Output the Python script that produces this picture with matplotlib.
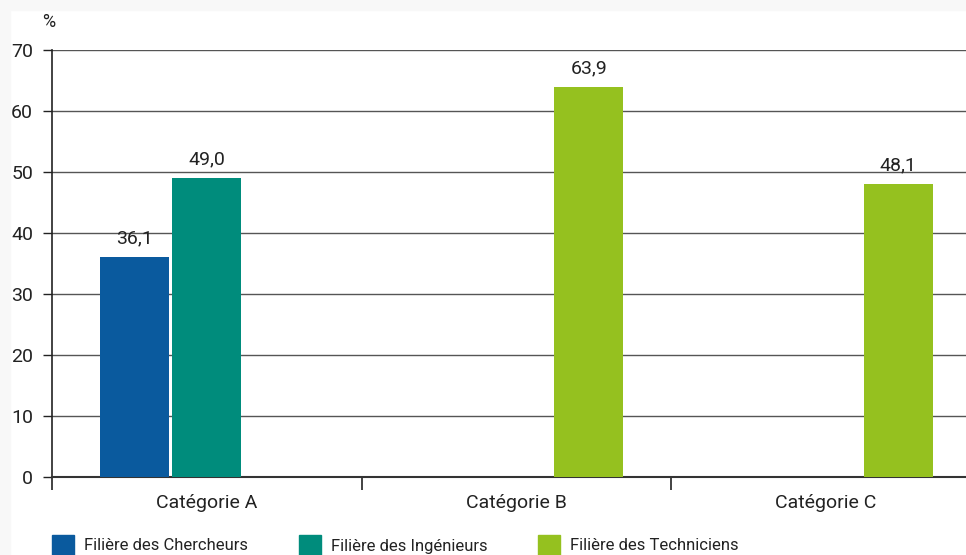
import matplotlib
matplotlib.use("Agg")
import matplotlib.pyplot as plt
import numpy as np
from matplotlib import font_manager
from matplotlib.patches import Rectangle

names = {f.name for f in font_manager.fontManager.ttflist}
FONT = "Liberation Sans Narrow" if "Liberation Sans Narrow" in names else "Roboto"
plt.rcParams['font.family'] = [FONT, 'DejaVu Sans']

categories = ["Catégorie A", "Catégorie B", "Catégorie C"]
series_names = ["Filière des Chercheurs", "Filière des Ingénieurs", "Filière des Techniciens"]
chercheurs = [36.1, np.nan, np.nan]
ingenieurs = [49.0, np.nan, np.nan]
techniciens = [np.nan, 63.9, 48.1]
colors = ["#0a5a9e", "#008c7c", "#95c11f"]
yticks = [0, 10, 20, 30, 40, 50, 60, 70]

W, H = 966, 555
fig = plt.figure(figsize=(W / 100, H / 100), dpi=100)
fig.patch.set_facecolor("white")
fig.patches.append(Rectangle((0, 1 - 10 / H), 1, 10 / H, transform=fig.transFigure, color="#f8f8f8", zorder=0))
fig.patches.append(Rectangle((0, 0), 10 / W, 1, transform=fig.transFigure, color="#f8f8f8", zorder=0))

left, right = 52 / W, 981 / W
bottom, top = 1 - 477 / H, 1 - 50 / H
ax = fig.add_axes([left, bottom, right - left, top - bottom])
ax.set_facecolor("none")

x = np.arange(len(categories))
slot = 0.233
bw = 0.223
offsets = [-slot, 0, slot]
for vals, off, c in zip([chercheurs, ingenieurs, techniciens], offsets, colors):
    ax.bar(x + off, vals, width=bw, color=c, zorder=3)
    for xi, v in zip(x + off, vals):
        if not np.isnan(v):
            ax.annotate(f"{v:.1f}".replace(".", ","), (xi, v), xytext=(0, 7),
                        textcoords="offset points", ha="center", va="bottom",
                        fontsize=14, color="#222222")

ax.set_xlim(-0.5, 2.5)
ax.set_ylim(0, 70)
ax.set_yticks(yticks)
ax.set_yticklabels([str(t) for t in yticks], fontsize=14, color="#222222")
ax.yaxis.grid(True, color="#555555", linewidth=1.0, zorder=0)
ax.set_axisbelow(True)

ax.set_xticks([-0.5, 0.5, 1.5], minor=False)
ax.set_xticklabels([])
ax.set_xticks(x, minor=True)
ax.set_xticklabels(categories, minor=True, fontsize=14, color="#222222")
ax.tick_params(axis="x", which="major", length=9, width=1.2, color="#222222", direction="out")
ax.tick_params(axis="x", which="minor", length=0, pad=12)
ax.tick_params(axis="y", length=6.5, width=1, color="#222222", pad=7)

for s in ["top", "right"]:
    ax.spines[s].set_visible(False)
ax.spines["left"].set_color("#222222")
ax.spines["left"].set_linewidth(1.2)
ax.spines["bottom"].set_color("#333333")
ax.spines["bottom"].set_linewidth(1.5)
ax.spines["left"].set_bounds(0, 70)

fig.text(42 / W, 1 - 22 / H, "%", fontsize=13, color="#222222", va="center", ha="left")

leg_x = [52, 299, 538]
for lx, name, c in zip(leg_x, series_names, colors):
    fig.patches.append(Rectangle((lx / W, 0), 22 / W, 20 / H, transform=fig.transFigure, color=c))
    fig.text((lx + 32) / W, 1 - 546 / H, name, fontsize=12, color="#222222", va="center", ha="left")

fig.savefig("out.png", dpi=100)
